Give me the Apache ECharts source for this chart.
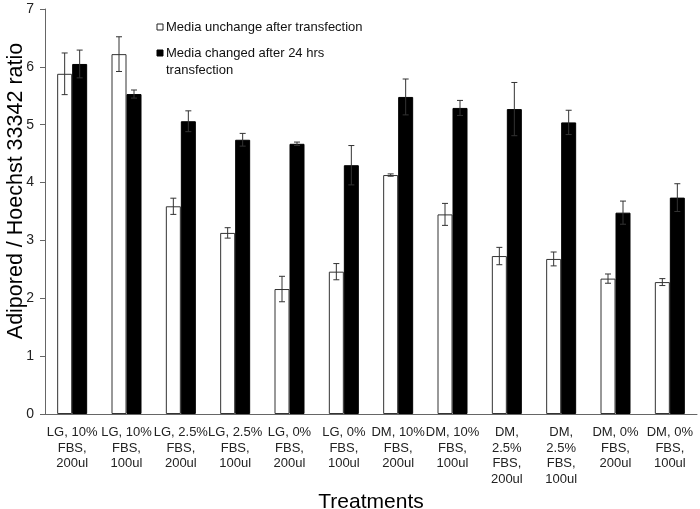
<!DOCTYPE html>
<html>
<head>
<meta charset="utf-8">
<script src="https://cdn.jsdelivr.net/npm/echarts@6/dist/echarts.min.js"></script>
<style>html,body{margin:0;padding:0;background:#fff}#c{width:700px;height:509px}</style>
</head>
<body>
<div id="c"></div>
<script>
var categories = ['LG, 10%\nFBS,\n200ul', 'LG, 10%\nFBS,\n100ul', 'LG, 2.5%\nFBS,\n200ul', 'LG, 2.5%\nFBS,\n100ul', 'LG, 0%\nFBS,\n200ul', 'LG, 0%\nFBS,\n100ul', 'DM, 10%\nFBS,\n200ul', 'DM, 10%\nFBS,\n100ul', 'DM,\n2.5%\nFBS,\n200ul', 'DM,\n2.5%\nFBS,\n100ul', 'DM, 0%\nFBS,\n200ul', 'DM, 0%\nFBS,\n100ul'];
var seriesNames = ['Media unchange after transfection', 'Media changed after 24 hrs\ntransfection'];
var unchanged = [5.88, 6.22, 3.59, 3.13, 2.16, 2.46, 4.13, 3.45, 2.73, 2.68, 2.34, 2.28];
var unchangedErr = [0.36, 0.30, 0.14, 0.09, 0.22, 0.14, 0.02, 0.19, 0.15, 0.12, 0.08, 0.06];
var changed = [6.05, 5.53, 5.06, 4.74, 4.67, 4.30, 5.48, 5.29, 5.27, 5.04, 3.48, 3.74];
var changedErr = [0.24, 0.07, 0.18, 0.11, 0.03, 0.34, 0.31, 0.13, 0.46, 0.21, 0.20, 0.24];
var yTicks = [0, 1, 2, 3, 4, 5, 6, 7];

var FONT = '"Liberation Sans", Arial, sans-serif';
var BAR_W = 15;

function errData(vals, errs) {
  return vals.map(function (v, i) { return [i, v, errs[i]]; });
}
function errSeries(vals, errs, offset) {
  return {
    type: 'custom',
    z: 10,
    silent: true,
    data: errData(vals, errs),
    encode: { x: 0, y: 1 },
    renderItem: function (params, api) {
      var x = api.value(0), y = api.value(1), e = api.value(2);
      var top = api.coord([x, y + e]);
      var bot = api.coord([x, y - e]);
      var cx = top[0] + offset;
      var hw = 3;
      var st = { stroke: '#333', lineWidth: 1 };
      return {
        type: 'group',
        children: [
          { type: 'line', shape: { x1: cx, y1: top[1], x2: cx, y2: bot[1] }, style: st },
          { type: 'line', shape: { x1: cx - hw, y1: top[1], x2: cx + hw, y2: top[1] }, style: st },
          { type: 'line', shape: { x1: cx - hw, y1: bot[1], x2: cx + hw, y2: bot[1] }, style: st }
        ]
      };
    }
  };
}

var chart = echarts.init(document.getElementById('c'));
chart.setOption({
  animation: false,
  backgroundColor: '#fff',
  textStyle: { fontFamily: FONT },
  grid: { left: 45, right: 3, top: 9, bottom: 95, containLabel: false, outerBoundsMode: 'none' },
  xAxis: {
    type: 'category',
    data: categories,
    name: 'Treatments',
    nameLocation: 'middle',
    nameGap: 76,
    nameTextStyle: { fontSize: 21, color: '#000', fontFamily: FONT },
    axisLine: { show: true, lineStyle: { color: '#666', width: 1 } },
    axisTick: { show: false },
    axisLabel: { interval: 0, fontSize: 13, lineHeight: 15.5, color: '#222', margin: 11, fontFamily: FONT }
  },
  yAxis: {
    type: 'value',
    min: 0,
    max: 7,
    interval: 1,
    axisLine: { show: true, lineStyle: { color: '#666', width: 1 } },
    axisTick: { show: true, inside: false, length: 5, lineStyle: { color: '#666' } },
    splitLine: { show: false },
    axisLabel: { fontSize: 14, color: '#222', margin: 11, fontFamily: FONT }
  },
  graphic: [
    {
      type: 'text', x: 16, y: 191, rotation: Math.PI / 2,
      style: { text: 'Adipored / Hoechst 33342 ratio', fontSize: 21.5, fontFamily: FONT, fill: '#000', align: 'center', verticalAlign: 'middle' }
    },
    { type: 'rect', shape: { x: 157, y: 24, width: 6, height: 6 }, style: { fill: '#fff', stroke: '#222', lineWidth: 1 } },
    { type: 'text', x: 166, y: 27, style: { text: seriesNames[0], fontSize: 13, fontFamily: FONT, fill: '#111', verticalAlign: 'middle' } },
    { type: 'rect', shape: { x: 157, y: 50, width: 6, height: 6 }, style: { fill: '#000', stroke: '#000', lineWidth: 1 } },
    { type: 'text', x: 166, y: 44.5, style: { text: seriesNames[1], fontSize: 13, lineHeight: 17, fontFamily: FONT, fill: '#111', verticalAlign: 'top' } }
  ],
  series: [
    {
      name: seriesNames[0], type: 'bar', data: unchanged, barWidth: BAR_W, barGap: '0%',
      itemStyle: { color: '#fff', borderColor: '#333', borderWidth: 1 }
    },
    {
      name: seriesNames[1], type: 'bar', data: changed, barWidth: BAR_W, barGap: '0%',
      itemStyle: { color: '#000', borderColor: '#000', borderWidth: 1 }
    },
    errSeries(unchanged, unchangedErr, -BAR_W / 2),
    errSeries(changed, changedErr, BAR_W / 2)
  ]
});
</script>
</body>
</html>
